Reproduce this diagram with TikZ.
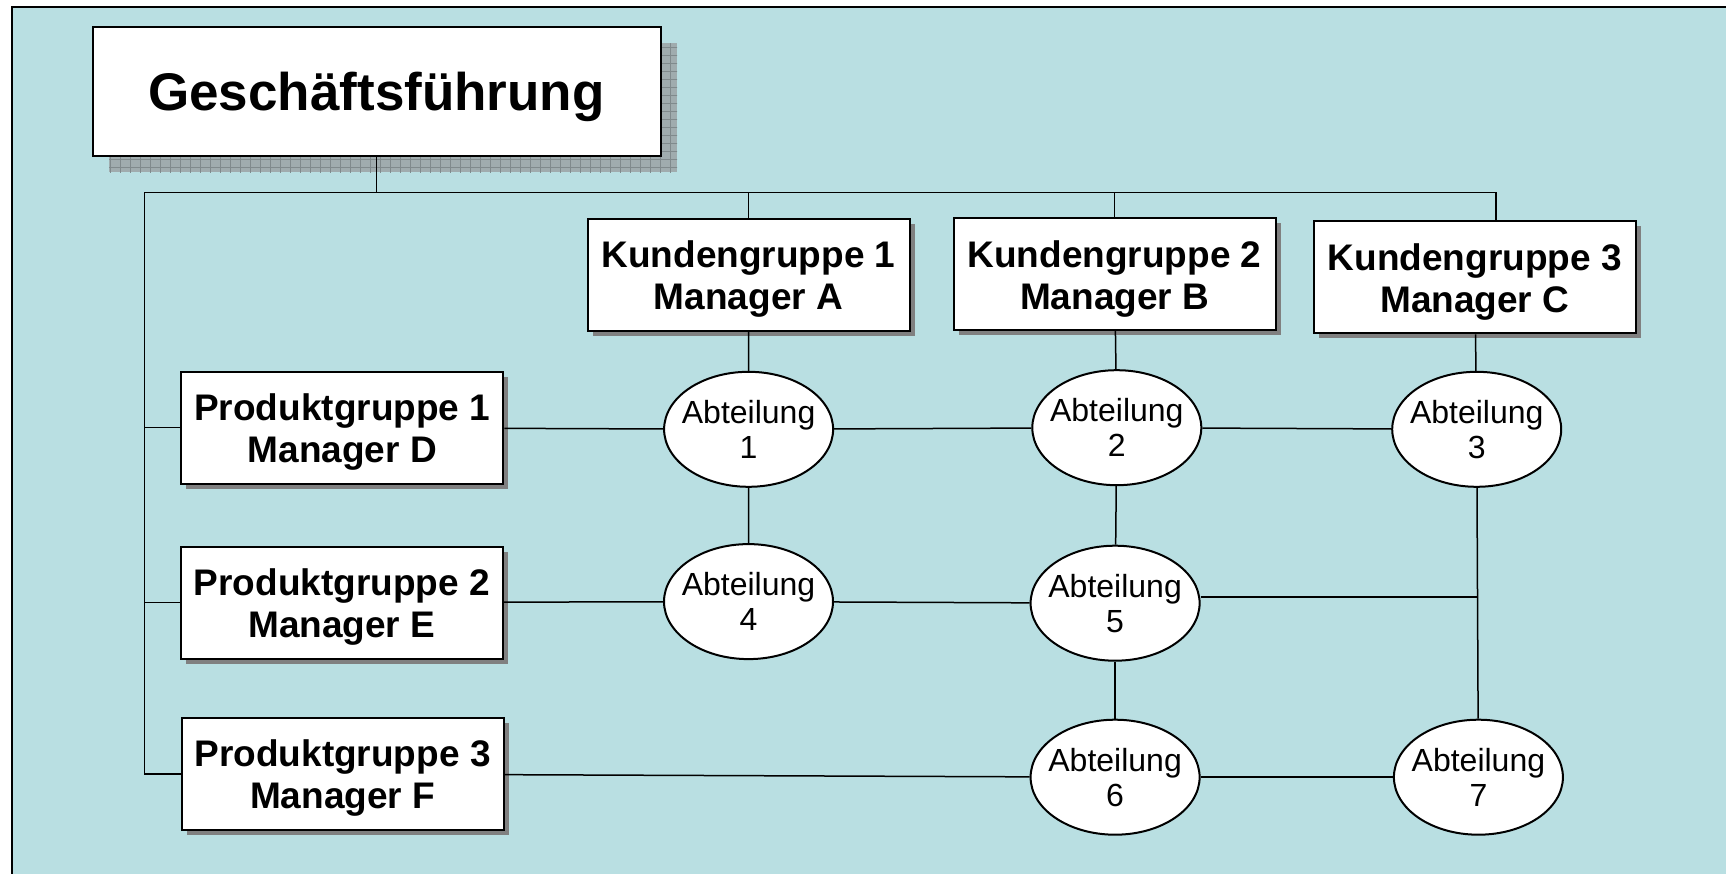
\documentclass[tikz,border=0pt]{standalone}
\usepackage{fontspec}
\setmainfont{Liberation Sans}
\usetikzlibrary{shapes.geometric,shadows}
\definecolor{bgblue}{RGB}{185,223,226}
\definecolor{hatchfill}{RGB}{160,172,174}
\definecolor{hatchline}{RGB}{128,138,140}
\definecolor{boxshadow}{RGB}{128,128,128}
\begin{document}
\begin{tikzpicture}[x=1pt,y=-1pt,
  boxbase/.style={draw=black, line width=2pt, fill=white, inner sep=0pt,
    minimum width=322pt, minimum height=112pt},
  unitbox/.style={boxbase,
    drop shadow={shadow xshift=5pt, shadow yshift=-5pt, fill=boxshadow, opacity=1}},
  boxtext/.style={align=center, inner sep=0pt, yshift=-4.5pt,
    font=\fontsize{37}{42}\selectfont\bfseries},
  dept/.style={ellipse, draw=black, line width=2pt, fill=white,
    inner xsep=-8pt, inner ysep=0pt,
    minimum width=169pt, minimum height=115pt, align=center,
    font=\fontsize{32}{35}\selectfont},
  link/.style={draw=black, line width=1.5pt}]
\useasboundingbox (0,0) rectangle (1726,874);

% background panel with its frame on the left and top
\fill[bgblue] (12,7) rectangle (1726,874);
\draw[line width=2pt] (12,874) -- (12,7) -- (1726,7);

% hatched shadow of the top box
\begin{scope}
  \clip (109,43.5) rectangle (677,172.5);
  \fill[hatchfill] (109,43.5) rectangle (677,172.5);
  \draw[hatchline, line width=1pt, xstep=10pt, ystep=8pt] (100,40) grid (680,180);
\end{scope}
\node[boxbase, minimum width=568pt, minimum height=129pt,
      label={[inner sep=0pt, yshift=-5pt,
              font=\fontsize{53}{60}\selectfont\bfseries]center:Geschäftsführung}]
      (GF) at (376.5,92) {};

% customer groups
\node[unitbox, label={[boxtext]center:Kundengruppe 1\\Manager A}] (K1) at (748.5,274.6) {};
\node[unitbox, label={[boxtext]center:Kundengruppe 2\\Manager B}] (K2) at (1114.6,274.1) {};
\node[unitbox, label={[boxtext]center:Kundengruppe 3\\Manager C}] (K3) at (1474.8,277.4) {};

% product groups
\node[unitbox, label={[boxtext]center:Produktgruppe 1\\Manager D}] (P1) at (342.3,427.7) {};
\node[unitbox, label={[boxtext]center:Produktgruppe 2\\Manager E}] (P2) at (341.8,602.5) {};
\node[unitbox, label={[boxtext]center:Produktgruppe 3\\Manager F}] (P3) at (342.6,774) {};

% departments
\node[dept] (A1) at (748.6,429.3) {Abteilung\\1};
\node[dept] (A2) at (1116.8,427.7) {Abteilung\\2};
\node[dept] (A3) at (1476.7,429.3) {Abteilung\\3};
\node[dept] (A4) at (748.5,601.6) {Abteilung\\4};
\node[dept] (A5) at (1115.1,603.2) {Abteilung\\5};
\node[dept] (A6) at (1115.1,777.2) {Abteilung\\6};
\node[dept] (A7) at (1478.4,777.2) {Abteilung\\7};

% management bus
\coordinate (busL) at (144.5,192.5);
\coordinate (busR) at (1496,192.5);
\coordinate (J) at (1477.6,597);
\draw[link] (GF.south) -- (GF.south |- busL);
\draw[link] (busL) -- (busR) -- (busR |- K3.north);
\draw[link] (K1.north |- busL) -- (K1.north);
\draw[link] (K2.north |- busL) -- (K2.north);
\draw[link] (busL) -- (busL |- P3.west) -- (P3.west);
\draw[link] (busL |- P1.west) -- (P1.west);
\draw[link] (busL |- P2.west) -- (P2.west);

% matrix links
\draw[link] (K1) -- (A1);
\draw[link] (K2) -- (A2);
\draw[link] (K3) -- (A3);
\draw[link] (P1) -- (A1);
\draw[link] (A1) -- (A2);
\draw[link] (A2) -- (A3);
\draw[link] (A1) -- (A4);
\draw[link] (A2) -- (A5);
\draw[link] (P2) -- (A4);
\draw[link] (A4) -- (A5);
\draw[link] (A5.east |- J) -- (J);
\draw[link] (A3) -- (A7);
\draw[link] (A5) -- (A6);
\draw[link] (P3) -- (A6);
\draw[link] (A6) -- (A7);
\end{tikzpicture}
\end{document}
